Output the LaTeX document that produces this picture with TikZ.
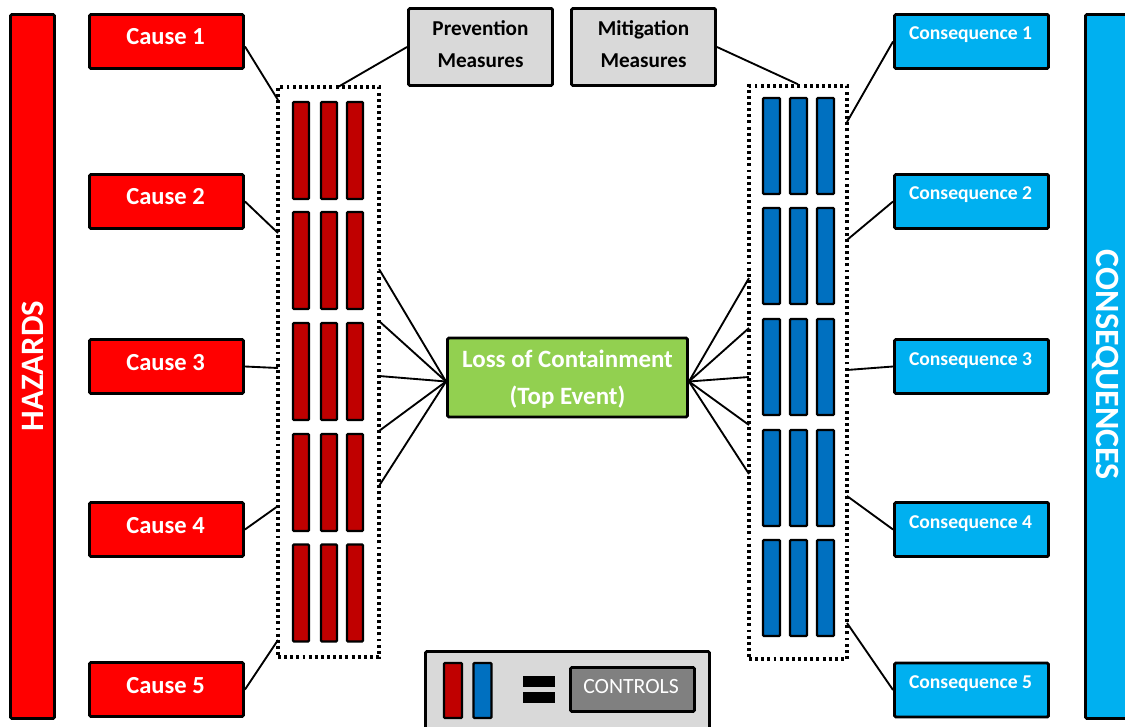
\documentclass[tikz,border=0pt]{standalone}
\usepackage{fontspec}
\setmainfont{Carlito}
\usetikzlibrary{calc}
\definecolor{cred}{HTML}{FF0000}
\definecolor{dred}{HTML}{C00000}
\definecolor{dblue}{HTML}{0070C0}
\definecolor{lblue}{HTML}{00B0F0}
\definecolor{lgreen}{HTML}{92D050}
\definecolor{lgray}{HTML}{D9D9D9}
\definecolor{mgray}{HTML}{808080}
\begin{document}
\begin{tikzpicture}[x=0.75pt,y=-0.75pt,
  wh/.style 2 args={minimum width=#1*0.75pt,minimum height=#2*0.75pt},
  box/.style={draw=black,line width=2.2pt,rounded corners=1pt,inner sep=0pt},
  causebox/.style={box,fill=cred,wh={154}{54}},
  consbox/.style={box,fill=lblue,wh={154}{54}},
  measbox/.style={box,fill=lgray,wh={144}{77}},
  topbox/.style={box,fill=lgreen,wh={240}{79}},
  sidebar/.style={box,wh={44}{704}},
  dotbox/.style={draw=black,line width=2.6pt,dash pattern=on 2.2pt off 2.4pt,inner sep=0pt},
  redbar/.style={draw=black,line width=1.7pt,rounded corners=0.8pt,fill=dred,wh={16}{97},inner sep=0pt},
  bluebar/.style={draw=black,line width=1.7pt,rounded corners=0.8pt,fill=dblue,wh={17}{96},inner sep=0pt},
  conn/.style={draw=black,line width=1.4pt},
  causetxt/.style={text=white,font=\bfseries\fontsize{18.4}{20}\selectfont,anchor=base,inner sep=0pt},
  constxt/.style={text=white,font=\bfseries\fontsize{14.7}{16}\selectfont,anchor=base,inner sep=0pt},
  meastxt/.style={text=black,font=\bfseries\fontsize{15.9}{18}\selectfont,anchor=base,inner sep=0pt},
  toptxt/.style={text=white,font=\bfseries\fontsize{18.7}{20}\selectfont,anchor=base,inner sep=0pt},
  sidetxt/.style={text=white,font=\bfseries\fontsize{24.5}{26}\selectfont,inner sep=0pt}
]
\useasboundingbox (0,0) rectangle (1125,727);
\clip (0,0) rectangle (1125,727);

% side bars
\node[sidebar,fill=cred] (haz) at (32.5,366.5) {};
\node[sidetxt,rotate=90] (hazt) at (33,366) {HAZARDS};
\node[sidebar,fill=lblue] (csq) at (1107.5,366.5) {};
\node[sidetxt,rotate=-90,font=\bfseries\fontsize{25.5}{27}\selectfont] (csqt) at (1106,365) {CONSEQUENCES};

% dotted groups
\node[dotbox,wh={101}{570}] (ldot) at (328.5,372) {};
\node[dotbox,wh={98}{573}] (rdot) at (798,372.5) {};

% control bars
\foreach \r/\y in {1/150.5,2/260.5,3/371.5,4/482.5,5/593}{
  \foreach \c/\x in {1/301,2/329,3/355}{
    \node[redbar] (rb-\r-\c) at (\x,\y) {};
  }
}
\foreach \r/\y in {1/146,2/256,3/367,4/478,5/588}{
  \foreach \c/\x in {1/771.5,2/798.5,3/825.5}{
    \node[bluebar] (bb-\r-\c) at (\x,\y) {};
  }
}

% cause boxes
\foreach \i/\y in {1/41.5,2/201.5,3/366.5,4/529.5,5/689.5}{
  \node[causebox] (c\i) at (166.5,\y) {};
  \node[causetxt] (ct\i) at ($(c\i.center)+(-1,3.5)$) {Cause \i};
}
% consequence boxes
\foreach \i/\y in {1/41.5,2/201.5,3/366.5,4/529.5,5/690}{
  \node[consbox] (q\i) at (971.5,\y) {};
  \node[constxt] (qt\i) at ($(q\i.center)+(-1,-1.5)$) {Consequence \i};
}

% measures
\node[measbox] (prev) at (480.5,47) {};
\node[meastxt] (prev1) at (480.5,35.7) {Prevention};
\node[meastxt] (prev2) at (480.5,67.7) {Measures};
\node[measbox] (mit) at (643.5,47) {};
\node[meastxt] (mit1) at (643.5,35.7) {Mitigation};
\node[meastxt] (mit2) at (643.5,67.7) {Measures};

% top event
\node[topbox] (top) at (567.5,377.5) {};
\node[toptxt] (topt1) at (567.5,368) {Loss of Containment};
\node[toptxt] (topt2) at (567.5,404) {(Top Event)};

% connector coordinates
\coordinate (tw) at ($(top.west)+(0,4)$);
\coordinate (te) at ($(top.east)+(0,4)$);
\foreach \i/\y in {1/100,2/233,3/368,4/506,5/640}{\coordinate (la\i) at (278,\y);}
\foreach \i/\y in {1/269,2/321,3/376,4/431,5/486}{\coordinate (lb\i) at (379,\y);}
\foreach \i/\y in {1/278,2/328,3/377,4/425,5/474}{\coordinate (ra\i) at (749,\y);}
\foreach \i/\y in {1/122,2/240,3/370,4/496,5/623}{\coordinate (rb\i) at (847,\y);}
\coordinate (lt) at (338,87);

% connectors
\draw[conn] ($(c1.east)+(0,5)$) -- (la1);
\foreach \i in {2,...,5}{\draw[conn] (c\i.east) -- (la\i);}
\foreach \i in {1,...,5}{\draw[conn] (lb\i) -- (tw);}
\foreach \i in {1,...,5}{\draw[conn] (te) -- (ra\i);}
\foreach \i in {1,...,5}{\draw[conn] (rb\i) -- (q\i.west);}
\draw[conn] (prev.west) -- (lt);
\draw[conn] (mit.east) -- (rdot.north);

% legend
\node[box,fill=lgray,wh={284}{87}] (leg) at (567.5,695) {};
\node[redbar,wh={18}{55}] (legr) at (453,690.5) {};
\node[bluebar,wh={18}{55}] (legb) at (482.5,690.5) {};
\node[fill=black,inner sep=0pt,wh={32}{11}] (eq1) at (539,681.5) {};
\node[fill=black,inner sep=0pt,wh={32}{11}] (eq2) at (539,697.5) {};
\node[box,fill=mgray,line width=2pt,wh={124}{44}] (ctl) at (632.5,689.5) {};
\node[text=white,font=\fontsize{16.3}{18}\selectfont,anchor=base,inner sep=0pt] (ctlt) at (631,693) {CONTROLS};
\end{tikzpicture}
\end{document}
